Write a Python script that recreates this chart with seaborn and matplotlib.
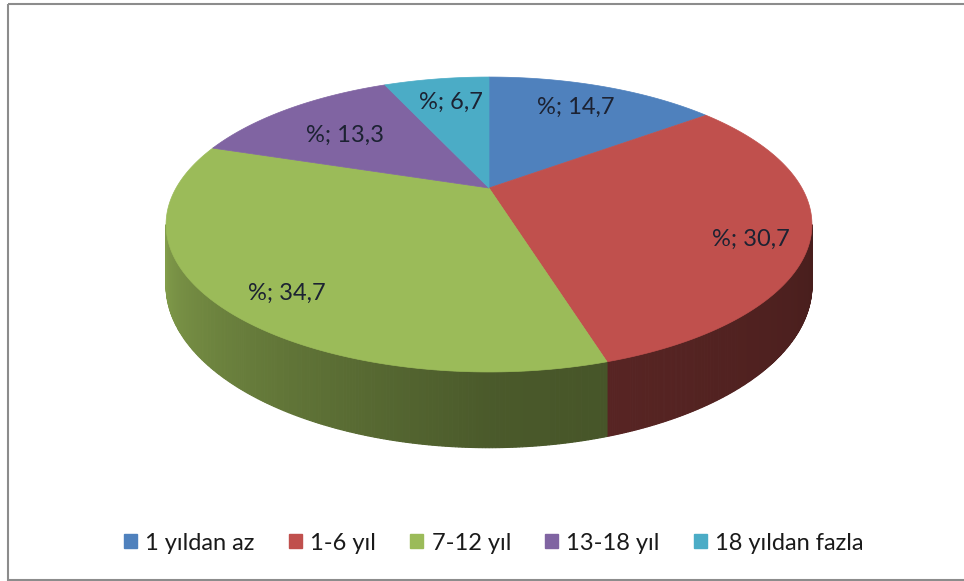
import numpy as np
import matplotlib
matplotlib.use("Agg")
import matplotlib.pyplot as plt
from matplotlib.patches import Polygon, Patch, Rectangle
import matplotlib.colors as mcolors
import seaborn as sns

# ---- data -------------------------------------------------------------
categories = ["1 yıldan az", "1-6 yıl", "7-12 yıl", "13-18 yıl", "18 yıldan fazla"]
percentages = [14.7, 30.7, 34.7, 13.3, 6.7]
slice_colors = ["#4f81bd", "#c0504d", "#9bbb59", "#8064a2", "#4bacc6"]

# ---- style ------------------------------------------------------------
sns.set_theme(style="white")
plt.rcParams["font.family"] = ["Lato", "DejaVu Sans"]
palette = sns.color_palette(slice_colors)

W, H = 964, 581
fig = plt.figure(figsize=(W / 100, H / 100), dpi=100)
ax = fig.add_axes([0, 0, 1, 1])
ax.set_xlim(0, W)
ax.set_ylim(H, 0)
ax.axis("off")

# chart frame
ax.add_patch(Rectangle((8, 4), W - 8 + 5, 576, fill=False, edgecolor="#8c8c8c", lw=1.5))

# ---- perspective projection of a unit disk (tilted pie) ---------------
CX, CY = 489.0, 188.0      # page position of the pie centre
A, B, K = 312.9, 91.9, 0.2475
THICK = 57.0               # extrusion depth of the pie


def project(phi, r=1.0, z=0.0):
    """phi: clockwise angle from 12 o'clock; z=0 top face, z=1 bottom face."""
    x = r * np.sin(phi)
    y = r * np.cos(phi)
    w = 1.0 + K * y
    px = CX + A * x / w
    py = (CY - B * y + THICK * z) / w
    return px, py


fracs = np.array(percentages) / np.sum(percentages)
edges = np.concatenate([[0.0], np.cumsum(fracs)]) * 2 * np.pi

# visible part of the side wall lies between the two silhouette angles
phi_r = np.arccos(-K)
phi_l = 2 * np.pi - phi_r


def side_shade(phi):
    # light comes from the left: walls facing left stay brighter
    return np.interp(phi, [phi_r, np.pi, phi_l], [0.37, 0.48, 0.84])


for i, col in enumerate(palette):
    a0, a1 = max(edges[i], phi_r), min(edges[i + 1], phi_l)
    if a1 <= a0:
        continue
    ts = np.linspace(a0, a1, 200)
    base = np.array(mcolors.to_rgb(col))
    for t0, t1 in zip(ts[:-1], ts[1:]):
        x0, y0 = project(t0)
        x1, y1 = project(t1)
        x2, y2 = project(t1, z=1)
        x3, y3 = project(t0, z=1)
        f = side_shade(0.5 * (t0 + t1))
        c = np.clip(base * f, 0, 1)
        ax.add_patch(Polygon([(x0, y0), (x1, y1), (x2, y2), (x3, y3)],
                             closed=True, facecolor=c, edgecolor=c, lw=0.8))

# top faces
for i, col in enumerate(palette):
    ts = np.linspace(edges[i], edges[i + 1], 200)
    px, py = project(ts)
    verts = [(CX, CY)] + list(zip(px, py))
    ax.add_patch(Polygon(verts, closed=True, facecolor=col, edgecolor=col, lw=0.5))

# ---- data labels: (radius on the disk, angular offset in degrees) -----
label_pos = [(0.75, -1.0), (0.84, 6.0), (0.84, -5.2), (0.66, -2.5), (0.74, 1.0)]
for i, v in enumerate(percentages):
    mid = 0.5 * (edges[i] + edges[i + 1])
    r, shift = label_pos[i]
    lx, ly = project(mid + np.deg2rad(shift), r=r)
    txt = "%; " + f"{v:.1f}".replace(".", ",")
    ax.text(lx, ly, txt, ha="center", va="center", fontsize=17, color="#1c2232")

# ---- legend -----------------------------------------------------------
handles = [Patch(facecolor=c, edgecolor=c) for c in palette]
ax.legend(handles, categories, loc="center", bbox_to_anchor=(494 / W, 1 - 543 / H),
          ncol=5, frameon=False, fontsize=17, handlelength=0.55, handleheight=0.55,
          handletextpad=0.35, columnspacing=1.45, labelcolor="#1a1a1a")

fig.savefig("out.png", dpi=100)
